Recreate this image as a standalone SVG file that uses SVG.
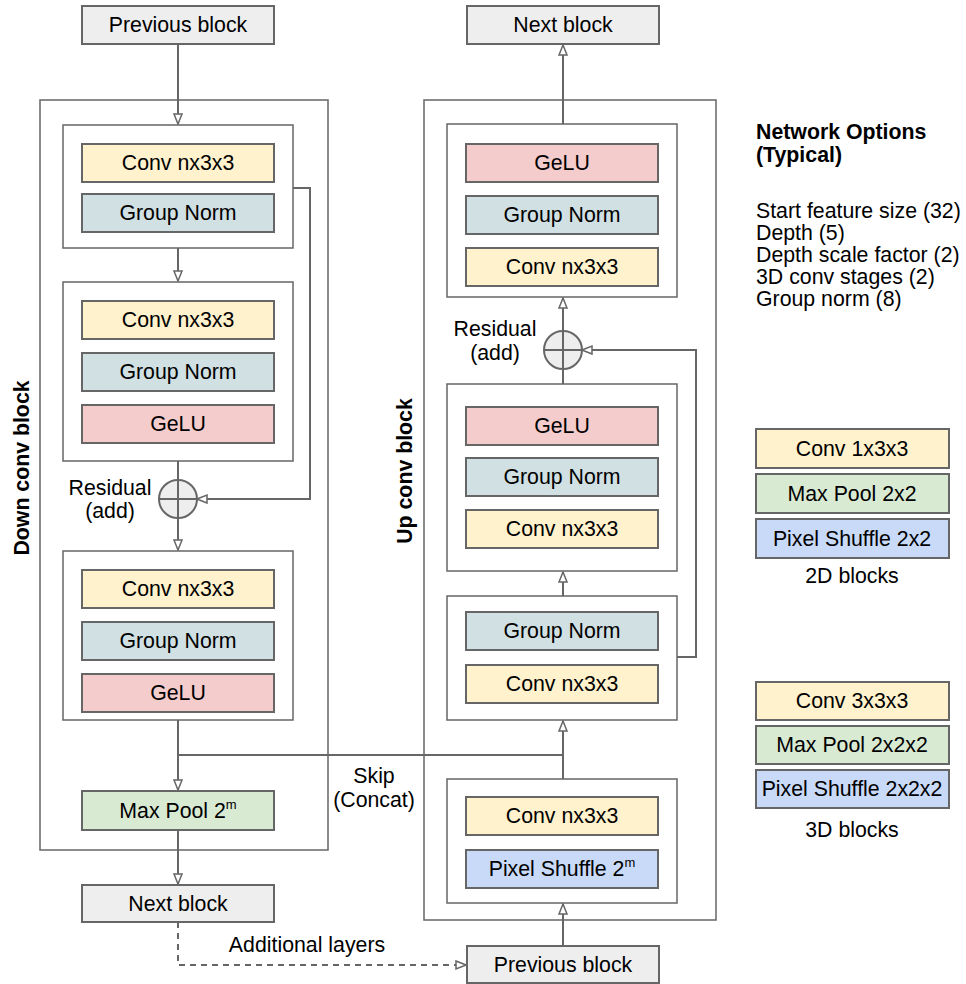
<svg xmlns="http://www.w3.org/2000/svg" width="966" height="984" viewBox="0 0 966 984">
<defs>
<marker id="arr" markerUnits="userSpaceOnUse" markerWidth="12" markerHeight="12" viewBox="0 0 12 12" refX="11" refY="6" orient="auto">
<path d="M1,2 L11,6 L1,10 z" fill="#fff" stroke="#666" stroke-width="1.5"/>
</marker>
</defs>
<style>
text{font-family:"Liberation Sans",Arial,sans-serif;font-size:21.3px;fill:#000}
.c{text-anchor:middle;dominant-baseline:central}
.b{stroke:#666;stroke-width:2}
.o{fill:none;stroke:#666;stroke-width:1.5}
.in{fill:#fff;stroke:#666;stroke-width:1.5}
.gray{fill:#eeeeee}
.yel{fill:#fff2cc}
.gn{fill:#d0e0e3}
.red{fill:#f4cccc}
.grn{fill:#d9ead3}
.blu{fill:#c9daf8}
.ln{fill:none;stroke:#666;stroke-width:2}
.bold{font-weight:bold}
.sup{font-size:13px}
</style>
<rect width="966" height="984" fill="#fff"/>

<g id="down-outer"><rect class="o" x="40" y="100" width="288" height="750"/></g>
<g id="up-outer"><rect class="o" x="424" y="100" width="292" height="820"/></g>

<g id="connectors">
<line class="ln" x1="178" y1="44" x2="178" y2="124" marker-end="url(#arr)"/>
<line class="ln" x1="178" y1="248" x2="178" y2="281" marker-end="url(#arr)"/>
<line class="ln" x1="178" y1="461" x2="178" y2="550" marker-end="url(#arr)"/>
<polyline class="ln" points="293,188 310,188 310,499 197,499" marker-end="url(#arr)"/>
<line class="ln" x1="178" y1="720" x2="178" y2="790" marker-end="url(#arr)"/>
<line class="ln" x1="178" y1="830" x2="178" y2="884" marker-end="url(#arr)"/>
<polyline class="ln" points="178,755 563,755"/>
<polyline class="ln" points="178,922 178,965 466,965" stroke-dasharray="6,5" marker-end="url(#arr)"/>
<line class="ln" x1="563" y1="946" x2="563" y2="904" marker-end="url(#arr)"/>
<line class="ln" x1="563" y1="779" x2="563" y2="721" marker-end="url(#arr)"/>
<line class="ln" x1="563" y1="596" x2="563" y2="572" marker-end="url(#arr)"/>
<line class="ln" x1="563" y1="384" x2="563" y2="298" marker-end="url(#arr)"/>
<polyline class="ln" points="677,657 696,657 696,350 582,350" marker-end="url(#arr)"/>
<line class="ln" x1="563" y1="124" x2="563" y2="45" marker-end="url(#arr)"/>
</g>

<g id="prev-left"><rect class="b gray" x="82" y="6" width="192" height="38"/><text class="c" x="178" y="25">Previous block</text></g>

<g id="down-b1">
<rect class="in" x="63" y="125" width="230" height="123"/>
<rect class="b yel" x="82" y="144" width="192" height="38"/><text class="c" x="178" y="163">Conv nx3x3</text>
<rect class="b gn" x="82" y="194" width="192" height="38"/><text class="c" x="178" y="213">Group Norm</text>
</g>
<g id="down-b2">
<rect class="in" x="63" y="282" width="230" height="179"/>
<rect class="b yel" x="82" y="301" width="192" height="38"/><text class="c" x="178" y="320">Conv nx3x3</text>
<rect class="b gn" x="82" y="353" width="192" height="38"/><text class="c" x="178" y="372">Group Norm</text>
<rect class="b red" x="82" y="405" width="192" height="38"/><text class="c" x="178" y="424">GeLU</text>
</g>
<g id="down-add">
<circle cx="178" cy="499" r="19" fill="#eeeeee" stroke="#666" stroke-width="2"/>
<line class="ln" x1="159" y1="499" x2="197" y2="499"/><line class="ln" x1="178" y1="480" x2="178" y2="518"/>
<text class="c" x="110" y="488">Residual</text><text class="c" x="110" y="511">(add)</text>
</g>
<g id="down-b3">
<rect class="in" x="63" y="551" width="230" height="169"/>
<rect class="b yel" x="82" y="570" width="192" height="38"/><text class="c" x="178" y="589">Conv nx3x3</text>
<rect class="b gn" x="82" y="622" width="192" height="38"/><text class="c" x="178" y="641">Group Norm</text>
<rect class="b red" x="82" y="674" width="192" height="38"/><text class="c" x="178" y="693">GeLU</text>
</g>
<g id="maxpool"><rect class="b grn" x="82" y="791" width="192" height="39"/><text class="c" x="178" y="811">Max Pool 2<tspan class="sup" dy="-7">m</tspan></text></g>
<g id="next-left"><rect class="b gray" x="82" y="885" width="192" height="37"/><text class="c" x="178" y="904">Next block</text></g>
<g id="label-additional"><text class="c" x="307" y="945">Additional layers</text></g>
<g id="label-skip"><text class="c" x="374" y="776">Skip</text><text class="c" x="374" y="800">(Concat)</text></g>
<g id="label-down"><text class="c bold" transform="translate(22,468) rotate(-90)">Down conv block</text></g>
<g id="label-up"><text class="c bold" transform="translate(405,471) rotate(-90)">Up conv block</text></g>

<g id="next-right"><rect class="b gray" x="467" y="6" width="192" height="38"/><text class="c" x="563" y="25">Next block</text></g>
<g id="up-bA">
<rect class="in" x="447" y="124" width="230" height="173"/>
<rect class="b red" x="466" y="144" width="192" height="38"/><text class="c" x="562" y="163">GeLU</text>
<rect class="b gn" x="466" y="196" width="192" height="38"/><text class="c" x="562" y="215">Group Norm</text>
<rect class="b yel" x="466" y="248" width="192" height="38"/><text class="c" x="562" y="267">Conv nx3x3</text>
</g>
<g id="up-add">
<circle cx="563" cy="350" r="19" fill="#eeeeee" stroke="#666" stroke-width="2"/>
<line class="ln" x1="544" y1="350" x2="582" y2="350"/><line class="ln" x1="563" y1="331" x2="563" y2="369"/>
<text class="c" x="495" y="329">Residual</text><text class="c" x="495" y="353">(add)</text>
</g>
<g id="up-bB">
<rect class="in" x="447" y="384" width="230" height="187"/>
<rect class="b red" x="466" y="407" width="192" height="38"/><text class="c" x="562" y="426">GeLU</text>
<rect class="b gn" x="466" y="458" width="192" height="38"/><text class="c" x="562" y="477">Group Norm</text>
<rect class="b yel" x="466" y="510" width="192" height="38"/><text class="c" x="562" y="529">Conv nx3x3</text>
</g>
<g id="up-bC">
<rect class="in" x="447" y="596" width="230" height="124"/>
<rect class="b gn" x="466" y="612" width="192" height="38"/><text class="c" x="562" y="631">Group Norm</text>
<rect class="b yel" x="466" y="665" width="192" height="38"/><text class="c" x="562" y="684">Conv nx3x3</text>
</g>
<g id="up-bD">
<rect class="in" x="447" y="779" width="230" height="124"/>
<rect class="b yel" x="466" y="797" width="192" height="38"/><text class="c" x="562" y="816">Conv nx3x3</text>
<rect class="b blu" x="466" y="850" width="192" height="38"/><text class="c" x="562" y="869">Pixel Shuffle 2<tspan class="sup" dy="-7">m</tspan></text>
</g>
<g id="prev-right"><rect class="b gray" x="467" y="946" width="192" height="37"/><text class="c" x="563" y="965">Previous block</text></g>

<g id="options">
<text class="bold" x="756" y="139">Network Options</text>
<text class="bold" x="756" y="162">(Typical)</text>
<text x="756" y="218">Start feature size (32)</text>
<text x="756" y="240">Depth (5)</text>
<text x="756" y="262">Depth scale factor (2)</text>
<text x="756" y="284">3D conv stages (2)</text>
<text x="756" y="306">Group norm (8)</text>
</g>
<g id="legend-2d">
<rect class="b yel" x="756" y="429" width="193" height="39"/><text class="c" x="852" y="449">Conv 1x3x3</text>
<rect class="b grn" x="756" y="474" width="193" height="39"/><text class="c" x="852" y="494">Max Pool 2x2</text>
<rect class="b blu" x="756" y="519" width="193" height="39"/><text class="c" x="852" y="539">Pixel Shuffle 2x2</text>
<text class="c" x="852" y="576">2D blocks</text>
</g>
<g id="legend-3d">
<rect class="b yel" x="756" y="682" width="193" height="38"/><text class="c" x="852" y="701">Conv 3x3x3</text>
<rect class="b grn" x="756" y="726" width="193" height="38"/><text class="c" x="852" y="745">Max Pool 2x2x2</text>
<rect class="b blu" x="756" y="770" width="193" height="38"/><text class="c" x="852" y="789">Pixel Shuffle 2x2x2</text>
<text class="c" x="852" y="830">3D blocks</text>
</g>
</svg>
